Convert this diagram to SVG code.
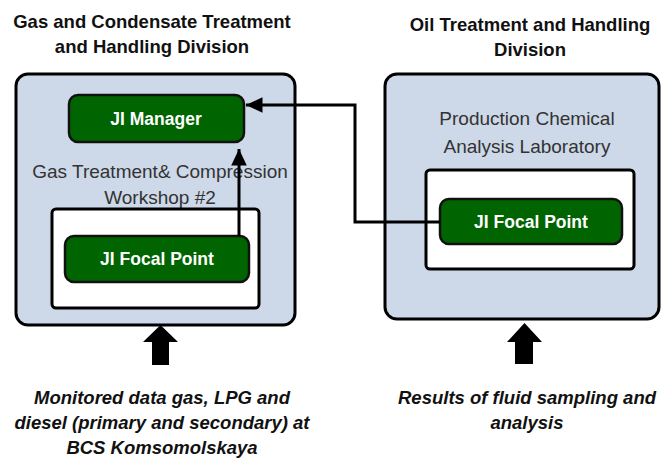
<svg xmlns="http://www.w3.org/2000/svg" width="661" height="459" viewBox="0 0 661 459">
<defs>
<style>
.outer{fill:#cdd8e8;stroke:#000;stroke-width:3}
.inner{fill:#fff;stroke:#000;stroke-width:3}
.green{fill:#006400;stroke:#111;stroke-width:2.5}
.title{font-family:"Liberation Sans",Arial,sans-serif;font-weight:bold;font-size:18.5px;fill:#111;text-anchor:middle}
.lbl{font-family:"Liberation Sans",Arial,sans-serif;font-size:19px;fill:#333;text-anchor:middle}
.gtxt{font-family:"Liberation Sans",Arial,sans-serif;font-weight:bold;font-size:17.5px;fill:#fff;text-anchor:middle}
.note{font-family:"Liberation Sans",Arial,sans-serif;font-weight:bold;font-style:italic;font-size:18.5px;fill:#111;text-anchor:middle}
.conn{fill:none;stroke:#000;stroke-width:3}
.big{fill:#000}
</style>
<marker id="ah" markerWidth="6" markerHeight="6" refX="5.5" refY="3" orient="auto" markerUnits="strokeWidth">
<path d="M0,0.4 L5.5,3 L0,5.6 Z" fill="#000"/>
</marker>
</defs>

<text class="title" x="152" y="28">Gas and Condensate Treatment</text>
<text class="title" x="152" y="53">and Handling Division</text>
<text class="title" x="530" y="31">Oil Treatment and Handling</text>
<text class="title" x="530" y="56">Division</text>

<g id="gas-division">
<rect class="outer" x="16" y="74" width="279" height="251" rx="12"/>
<text class="lbl" x="160" y="178">Gas Treatment&amp; Compression</text>
<text class="lbl" x="160" y="204">Workshop #2</text>
</g>
<g id="gas-workshop">
<rect class="inner" x="52" y="209" width="207" height="99" rx="4"/>
</g>
<g id="ji-manager">
<rect class="green" x="69" y="95" width="175" height="47" rx="9"/>
<text class="gtxt" x="156" y="125">JI Manager</text>
</g>
<g id="ji-focal-left">
<rect class="green" x="65" y="236" width="184" height="46" rx="9"/>
<text class="gtxt" x="157" y="265">JI Focal Point</text>
</g>

<g id="oil-division">
<rect class="outer" x="385" y="74" width="274" height="245" rx="12"/>
<text class="lbl" x="527" y="125">Production Chemical</text>
<text class="lbl" x="527" y="153">Analysis Laboratory</text>
</g>
<g id="lab">
<rect class="inner" x="426" y="170" width="208" height="99" rx="4"/>
</g>
<g id="ji-focal-right">
<rect class="green" x="440" y="199" width="182" height="45" rx="9"/>
<text class="gtxt" x="531" y="228">JI Focal Point</text>
</g>

<g id="connectors">
<path class="conn" d="M440,222 H355 V105 H246" marker-end="url(#ah)"/>
<path class="conn" d="M239,236 V149" marker-end="url(#ah)"/>
<path class="big" d="M160.5,325 L178,342 L169,342 L169,365 L152,365 L152,342 L143,342 Z"/>
<path class="big" d="M524.5,323 L542,342 L533,342 L533,364 L515,364 L515,342 L507,342 Z"/>
</g>

<text class="note" x="162" y="404">Monitored data gas, LPG and</text>
<text class="note" x="162" y="429">diesel (primary and secondary) at</text>
<text class="note" x="162" y="454">BCS Komsomolskaya</text>
<text class="note" x="527" y="404">Results of fluid sampling and</text>
<text class="note" x="527" y="429">analysis</text>
</svg>
